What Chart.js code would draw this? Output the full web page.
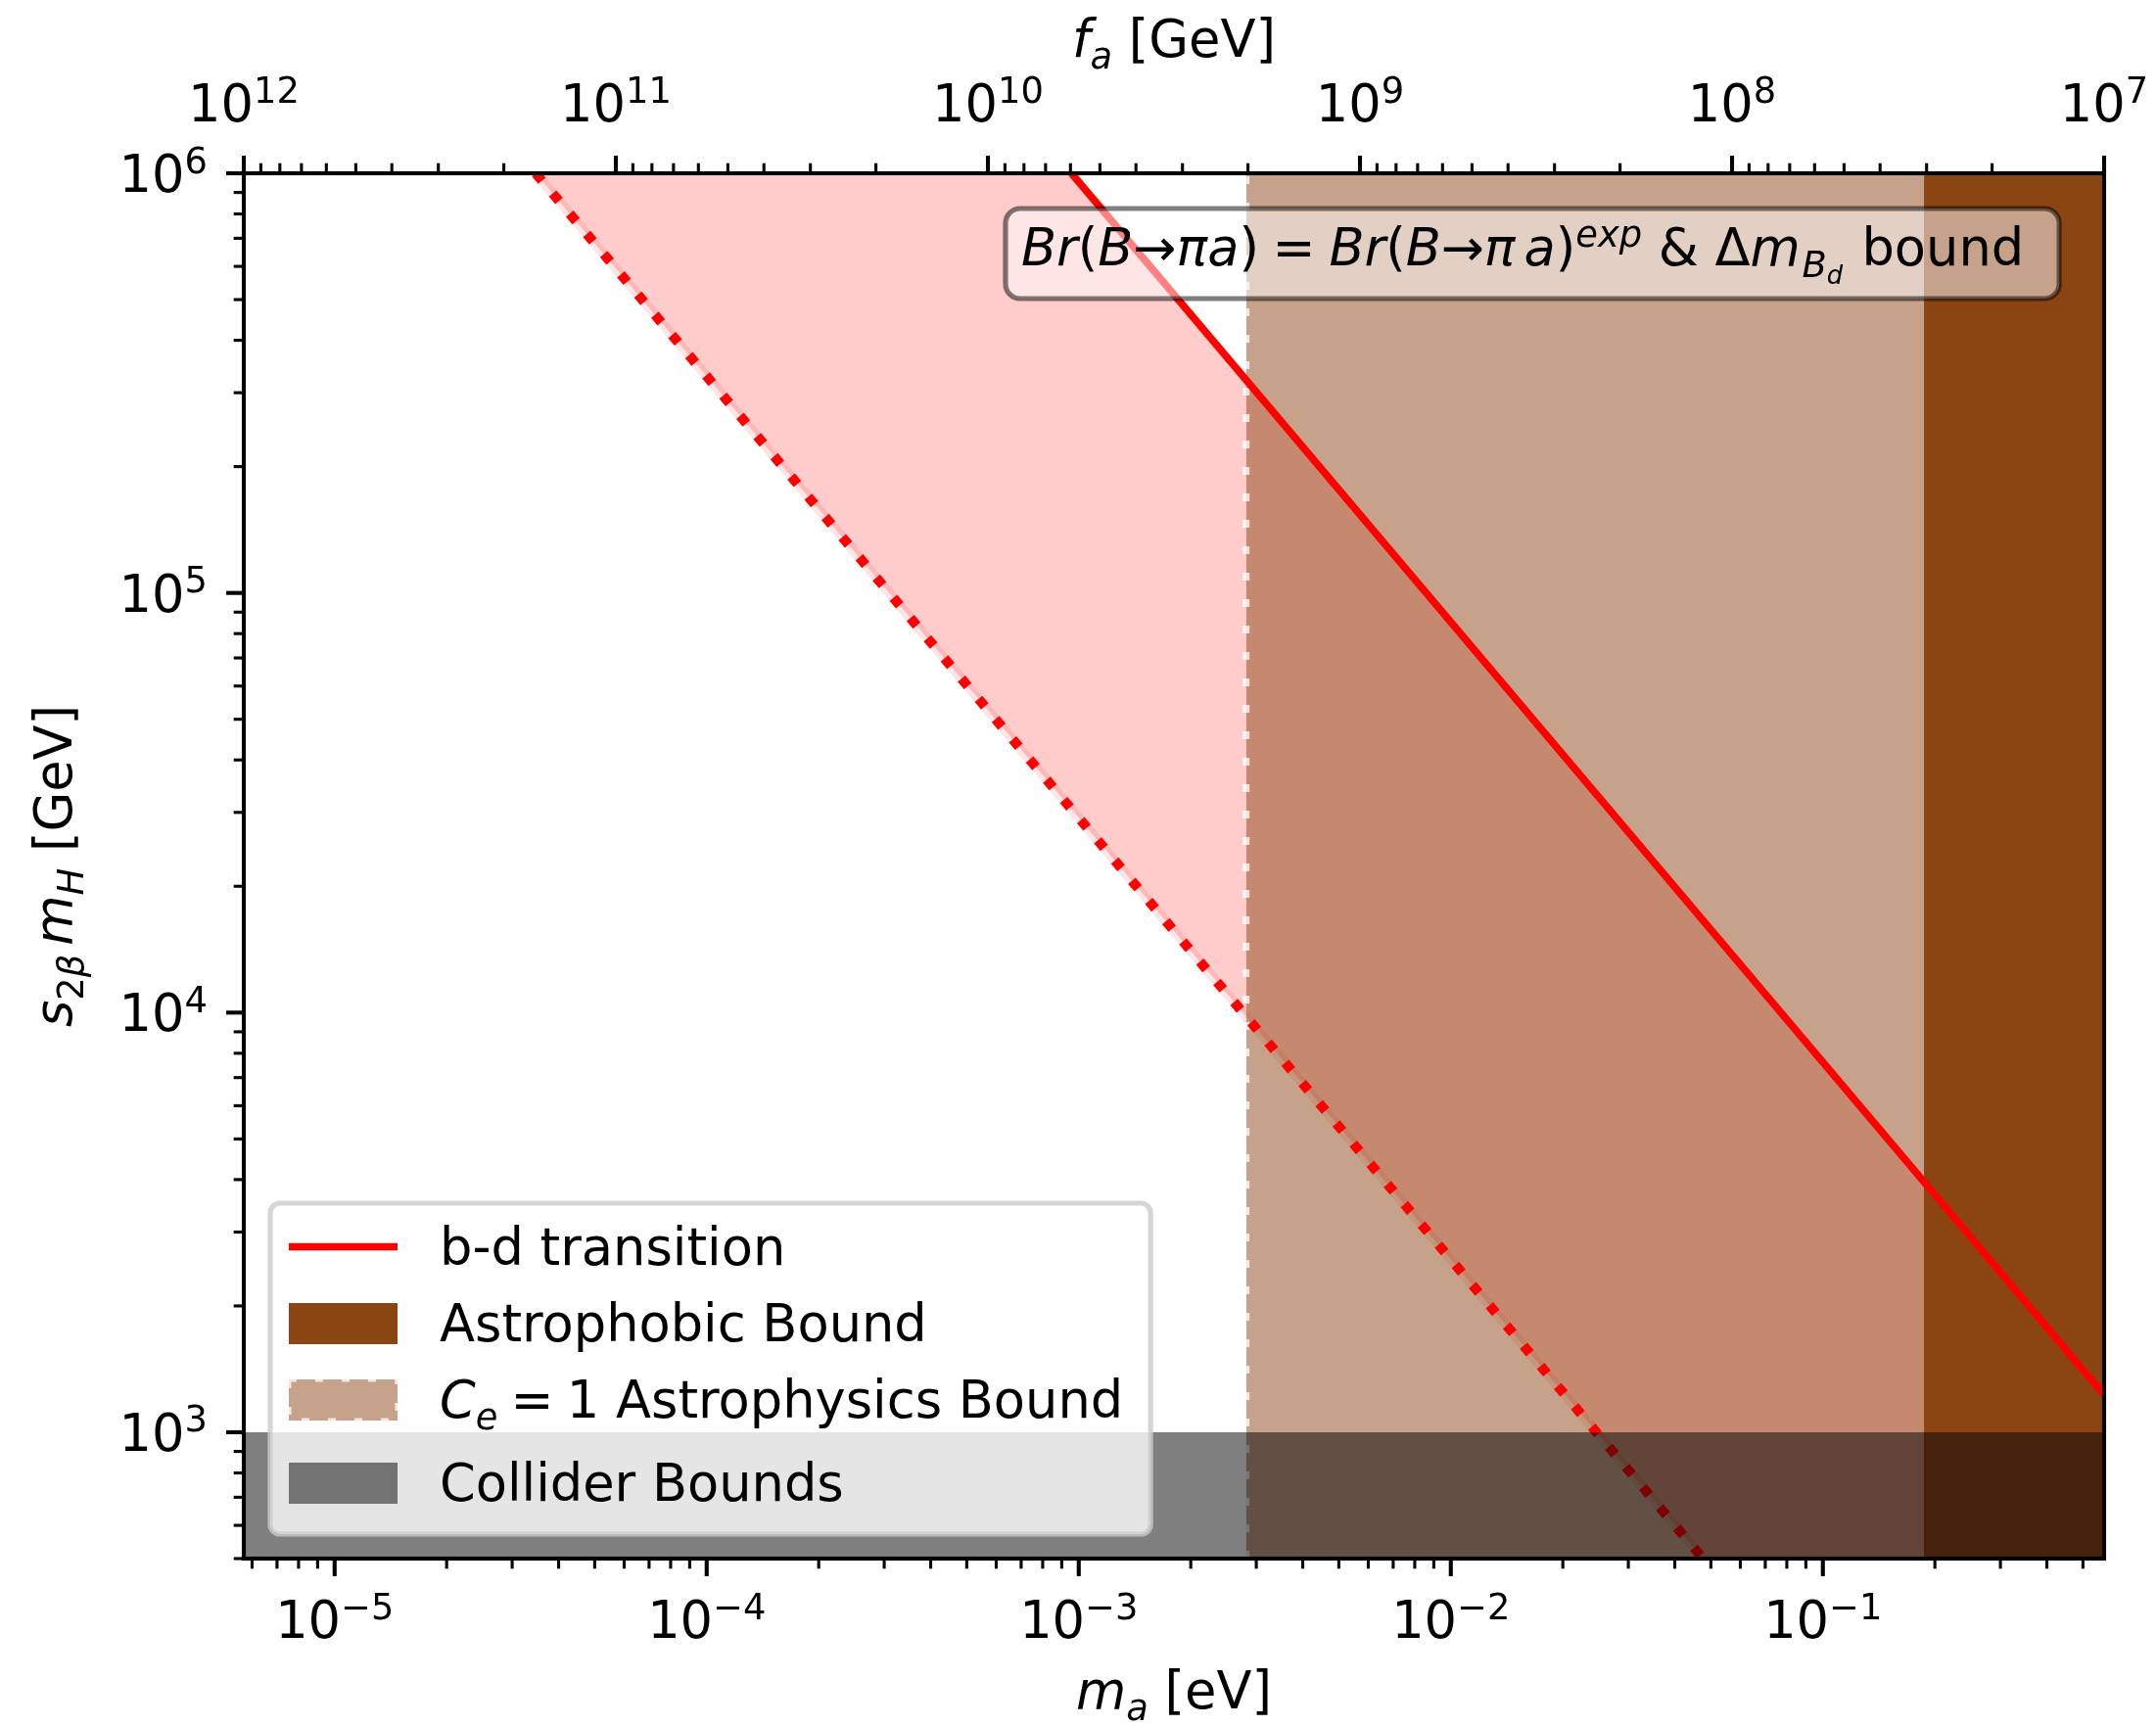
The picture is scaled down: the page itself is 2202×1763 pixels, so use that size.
<!DOCTYPE html>
<html>
<head>
<meta charset="utf-8">
<script src="https://cdn.jsdelivr.net/npm/chart.js@4.4.1/dist/chart.umd.min.js"></script>
<style>
  html, body { margin: 0; padding: 0; background: #fff; }
  canvas { display: block; }
</style>
</head>
<body>
<canvas id="axionChart" width="2202" height="1763"></canvas>
<script>
// plot window: m_a [eV] on the bottom, f_a [GeV] on top, s_2β m_H [GeV] up the side
const maLimits = [5.7e-6, 0.57];
const faLimits = [1e7, 1e12];
const scaleLimits = [500, 1e6];

// b-d transition: solid and dotted edges, where they enter and leave the frame
const bdSolidMa = [9.56e-4, 0.57];
const bdSolidScale = [1.0e6, 1227];
const bdDottedMa = [3.47e-5, 0.0476];
const bdDottedScale = [1.0e6, 500];

// excluded bands
const astrophobicMa = [0.187, 0.57];
const ceOneMa = [2.817e-3, 0.57];
const colliderScale = [500, 1000];

// decade labels
const maExponents = [-5, -4, -3, -2, -1];
const faExponents = [12, 11, 10, 9, 8, 7];
const scaleExponents = [3, 4, 5, 6];

const PT = 379 / 72;
const FS = 10 * PT;

const RED = '#ff0000';
const BROWN = '#8b4513';
const BROWN_HALF = 'rgba(139, 69, 19, 0.5)';
const PINK = 'rgba(255, 0, 0, 0.2)';
const GRAY = 'rgba(0, 0, 0, 0.5)';
const EDGE_DASH = 'rgba(255, 255, 255, 0.75)';
const NONE = 'rgba(0, 0, 0, 0)';

const pts = (xs, ys) => xs.map((x, i) => ({x: x, y: ys[i]}));
const scaleTop = scaleLimits[1];

// outline of the region between the two b-d edges
const bandUpper = pts([bdDottedMa[0], bdSolidMa[0], bdSolidMa[1]], [scaleTop, bdSolidScale[0], bdSolidScale[1]]);
const bandLower = pts([bdDottedMa[0], bdDottedMa[1], maLimits[1]], [bdDottedScale[0], bdDottedScale[1], scaleLimits[0]]);

function partFont(p) {
    return (p.it ? 'italic ' : '') + (FS * (p.s || 1)).toFixed(2) + 'px "DejaVu Sans"';
}

function richWidth(ctx, parts) {
    let w = 0;
    for (const p of parts) {
        ctx.font = partFont(p);
        w += ctx.measureText(p.t).width + (p.gap || 0) * FS;
    }
    return w;
}

function drawRich(ctx, parts, x, y, align) {
    const w = richWidth(ctx, parts);
    let cx = align === 'center' ? x - w / 2 : align === 'right' ? x - w : x;
    ctx.textAlign = 'left';
    ctx.textBaseline = 'alphabetic';
    for (const p of parts) {
        ctx.font = partFont(p);
        ctx.fillText(p.t, cx, y - (p.dy || 0) * FS);
        cx += ctx.measureText(p.t).width + (p.gap || 0) * FS;
    }
    return w;
}

function powerLabel(exp) {
    const e = exp < 0 ? '\u2212' + (-exp) : String(exp);
    return [{t: '10'}, {t: e, s: 0.7, dy: 0.37}];
}

function logTicks(min, max) {
    const out = [];
    for (let d = Math.floor(Math.log10(min)); d <= Math.ceil(Math.log10(max)); d++) {
        for (let k = 1; k < 10; k++) {
            const v = k * Math.pow(10, d);
            if (v >= min * 0.9999 && v <= max * 1.0001) out.push({v: v, major: k === 1});
        }
    }
    return out;
}

function roundRect(ctx, x, y, w, h, r) {
    ctx.beginPath();
    ctx.moveTo(x + r, y);
    ctx.arcTo(x + w, y, x + w, y + h, r);
    ctx.arcTo(x + w, y + h, x, y + h, r);
    ctx.arcTo(x, y + h, x, y, r);
    ctx.arcTo(x, y, x + w, y, r);
    ctx.closePath();
}

const boxText = [
    {t: 'Br', it: 1}, {t: '('}, {t: 'B', it: 1}, {t: '\u2192'}, {t: '\u03c0a', it: 1}, {t: ')', gap: 0.26},
    {t: '=', gap: 0.26},
    {t: 'Br', it: 1}, {t: '('}, {t: 'B', it: 1}, {t: '\u2192'}, {t: '\u03c0', it: 1, gap: 0.17}, {t: 'a', it: 1}, {t: ')'},
    {t: 'exp', it: 1, s: 0.7, dy: 0.37},
    {t: ' & \u0394'}, {t: 'm', it: 1, gap: 0.03}, {t: 'B', it: 1, s: 0.7, dy: -0.22}, {t: 'd', it: 1, s: 0.49, dy: -0.36, gap: 0.05},
    {t: ' bound'}
];

const legendRows = [
    {ds: 2, kind: 'line', base: 1292, text: [{t: 'b-d transition'}]},
    {ds: 3, kind: 'patch', base: 1370, text: [{t: 'Astrophobic Bound'}]},
    {ds: 5, kind: 'dashed', base: 1448, text: [{t: 'C', it: 1}, {t: 'e', it: 1, s: 0.7, dy: -0.22, gap: 0.25}, {t: '=', gap: 0.25}, {t: '1 Astrophysics Bound'}]},
    {ds: 0, kind: 'patch', base: 1533, text: [{t: 'Collider Bounds'}]}
];

const frame = {
    id: 'frame',
    afterDraw(chart) {
        const {ctx, chartArea: a, scales} = chart;
        ctx.save();
        ctx.fillStyle = '#000';
        ctx.strokeStyle = '#000';

        // tick marks
        const tick = (x1, y1, x2, y2, major) => {
            ctx.lineWidth = major ? 4.1 : 3.1;
            ctx.beginPath();
            ctx.moveTo(x1, y1);
            ctx.lineTo(x2, y2);
            ctx.stroke();
        };
        const len = (major) => (major ? 18 : 10.3);
        for (const t of logTicks(maLimits[0], maLimits[1])) {
            const x = scales.x.getPixelForValue(t.v);
            tick(x, a.bottom, x, a.bottom + len(t.major), t.major);
        }
        for (const t of logTicks(faLimits[0], faLimits[1])) {
            const x = scales.fa.getPixelForValue(t.v);
            tick(x, a.top, x, a.top - len(t.major), t.major);
        }
        for (const t of logTicks(scaleLimits[0], scaleLimits[1])) {
            const y = scales.y.getPixelForValue(t.v);
            tick(a.left, y, a.left - len(t.major), y, t.major);
        }

        // frame
        ctx.lineWidth = 4.1;
        ctx.strokeRect(a.left, a.top, a.right - a.left, a.bottom - a.top);

        // tick labels
        for (const e of maExponents) {
            drawRich(ctx, powerLabel(e), scales.x.getPixelForValue(Math.pow(10, e)), 1673, 'center');
        }
        for (const e of faExponents) {
            drawRich(ctx, powerLabel(e), scales.fa.getPixelForValue(Math.pow(10, e)), 124, 'center');
        }
        for (const e of scaleExponents) {
            drawRich(ctx, powerLabel(e), a.left - 37, scales.y.getPixelForValue(Math.pow(10, e)) + 19, 'right');
        }

        // axis titles
        const midX = (a.left + a.right) / 2;
        drawRich(ctx, [{t: 'm', it: 1}, {t: 'a', it: 1, s: 0.7, dy: -0.22}, {t: ' [eV]'}], midX, 1745, 'center');
        drawRich(ctx, [{t: 'f', it: 1}, {t: 'a', it: 1, s: 0.7, dy: -0.22}, {t: ' [GeV]'}], midX, 58, 'center');
        ctx.save();
        ctx.translate(73, (a.top + a.bottom) / 2);
        ctx.rotate(-Math.PI / 2);
        drawRich(ctx, [
            {t: 's', it: 1}, {t: '2', s: 0.7, dy: -0.22}, {t: '\u03b2', it: 1, s: 0.7, dy: -0.22, gap: 0.17},
            {t: 'm', it: 1}, {t: 'H', it: 1, s: 0.7, dy: -0.22}, {t: ' [GeV]'}
        ], 0, 0, 'center');
        ctx.restore();

        // annotation box
        const tx = 1043, ty = 271;
        const tw = richWidth(ctx, boxText);
        roundRect(ctx, tx - 16, 213, tw + 16 + 36, 92, 15);
        ctx.fillStyle = 'rgba(255, 255, 255, 0.5)';
        ctx.fill();
        ctx.lineWidth = 5.2;
        ctx.strokeStyle = 'rgba(0, 0, 0, 0.5)';
        ctx.stroke();
        ctx.fillStyle = '#000';
        drawRich(ctx, boxText, tx, ty, 'left');

        // legend
        const lx = 276, ly = 1229, hx = 295, hw = 111, textX = 449;
        let maxW = 0;
        for (const r of legendRows) maxW = Math.max(maxW, richWidth(ctx, r.text));
        roundRect(ctx, lx, ly, textX + maxW + 28 - lx, 1567 - ly, 10);
        ctx.fillStyle = 'rgba(255, 255, 255, 0.8)';
        ctx.fill();
        ctx.lineWidth = 5.2;
        ctx.strokeStyle = 'rgba(204, 204, 204, 0.8)';
        ctx.stroke();
        for (const r of legendRows) {
            const ds = chart.data.datasets[r.ds];
            if (r.kind === 'line') {
                ctx.strokeStyle = ds.borderColor;
                ctx.lineWidth = ds.borderWidth;
                ctx.beginPath();
                ctx.moveTo(hx, r.base - 18.5);
                ctx.lineTo(hx + hw, r.base - 18.5);
                ctx.stroke();
            } else {
                ctx.fillStyle = ds.backgroundColor;
                ctx.fillRect(hx, r.base - 39, hw, 42);
                if (r.kind === 'dashed') {
                    ctx.setLineDash([8, 19]);
                    ctx.lineWidth = 5.2;
                    ctx.strokeStyle = EDGE_DASH;
                    ctx.strokeRect(hx, r.base - 39, hw, 42);
                    ctx.setLineDash([]);
                }
            }
            ctx.fillStyle = '#000';
            drawRich(ctx, r.text, textX, r.base, 'left');
        }
        ctx.restore();
    }
};

const chart = new Chart(document.getElementById('axionChart'), {
    type: 'line',
    data: {
        datasets: [
            {
                label: 'Collider Bounds',
                data: pts(maLimits, [colliderScale[1], colliderScale[1]]),
                fill: 'start', backgroundColor: GRAY, borderColor: NONE, borderWidth: 0
            },
            {
                label: 'b-d transition (dotted)',
                data: pts(bdDottedMa, bdDottedScale),
                fill: false, borderColor: RED, borderWidth: 10, borderDash: [10, 17]
            },
            {
                label: 'b-d transition',
                data: pts(bdSolidMa, bdSolidScale),
                fill: false, borderColor: RED, borderWidth: 7.5
            },
            {
                label: 'Astrophobic Bound',
                data: pts(astrophobicMa, [scaleTop, scaleTop]),
                fill: 'start', backgroundColor: BROWN, borderColor: NONE, borderWidth: 0
            },
            {
                label: 'C_e = 1 edge',
                data: pts([ceOneMa[0], ceOneMa[0]], scaleLimits),
                fill: false, borderColor: EDGE_DASH, borderWidth: 7, borderDash: [8, 19]
            },
            {
                label: 'C_e = 1 Astrophysics Bound',
                data: pts(ceOneMa, [scaleTop, scaleTop]),
                fill: 'start', backgroundColor: BROWN_HALF, borderColor: NONE, borderWidth: 0
            },
            {
                label: 'dotted edge glow',
                data: pts(bdDottedMa, bdDottedScale),
                fill: false, borderColor: 'rgba(255, 0, 0, 0.1)', borderWidth: 10
            },
            {
                label: 'b-d band',
                data: bandLower,
                fill: '+1', backgroundColor: PINK, borderColor: NONE, borderWidth: 0
            },
            {
                label: 'b-d band top',
                data: bandUpper,
                fill: false, borderColor: NONE, borderWidth: 0
            }
        ]
    },
    options: {
        responsive: false,
        animation: false,
        devicePixelRatio: 1,
        layout: {padding: {left: 249, right: 53, top: 177, bottom: 171}},
        elements: {point: {radius: 0, hoverRadius: 0}, line: {tension: 0}},
        scales: {
            x: {type: 'logarithmic', min: maLimits[0], max: maLimits[1], display: false},
            fa: {type: 'logarithmic', axis: 'x', position: 'top', reverse: true, min: faLimits[0], max: faLimits[1], display: false},
            y: {type: 'logarithmic', min: scaleLimits[0], max: scaleLimits[1], display: false}
        },
        plugins: {
            legend: {display: false},
            tooltip: {enabled: false}
        }
    },
    plugins: [frame]
});
</script>
</body>
</html>
